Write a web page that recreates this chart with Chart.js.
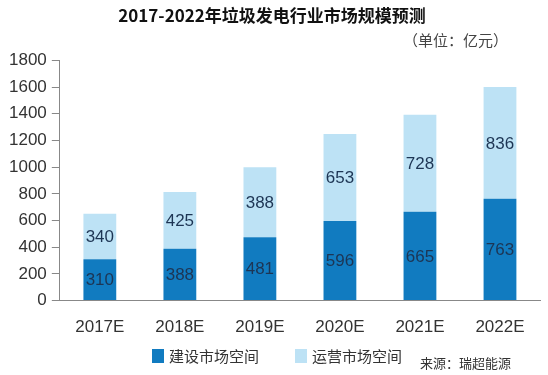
<!DOCTYPE html>
<html>
<head>
<meta charset="utf-8">
<script src="https://cdn.jsdelivr.net/npm/chart.js@4"></script>
<style>
  html, body { margin: 0; padding: 0; background: #fff; }
  #wrap { width: 548px; height: 375px; }
</style>
</head>
<body>
<div id="wrap"><canvas id="marketChart"></canvas></div>
<script>
const years = ['2017E', '2018E', '2019E', '2020E', '2021E', '2022E'];
// bar heights as drawn in the picture
const buildValues = [310, 388, 475, 596, 665, 763];
const operateValues = [340, 425, 525, 653, 728, 838];
// numbers printed on the bars (2019E operate bar is drawn taller than its label)
const buildLabels = [310, 388, 481, 596, 665, 763];
const operateLabels = [340, 425, 388, 653, 728, 836];
const yTicks = [0, 200, 400, 600, 800, 1000, 1200, 1400, 1600, 1800];

const FONT = '"Liberation Sans", "Noto Sans CJK SC", sans-serif';
const CJK = '"Noto Sans CJK SC", sans-serif';

// numbers inside the bars, unit note, legend and source note
const barLabels = {
  id: 'barLabels',
  afterDatasetsDraw(chart) {
    const ctx = chart.ctx;
    const texts = [buildLabels, operateLabels];
    ctx.save();
    ctx.font = '17px ' + FONT;
    ctx.fillStyle = '#1d3554';
    ctx.textAlign = 'center';
    ctx.textBaseline = 'middle';
    chart.data.datasets.forEach((ds, i) => {
      chart.getDatasetMeta(i).data.forEach((bar, j) => {
        ctx.fillText(texts[i][j], bar.x, (bar.y + bar.base) / 2 + 1);
      });
    });

    ctx.font = '15px ' + CJK;
    ctx.fillStyle = '#444';
    ctx.textAlign = 'right';
    ctx.fillText('（单位：亿元）', 508, 40);

    // legend
    const legendX = [152, 295];
    ctx.font = '15px ' + CJK;
    ctx.textAlign = 'left';
    chart.data.datasets.forEach((ds, i) => {
      ctx.fillStyle = ds.backgroundColor;
      ctx.fillRect(legendX[i], 349, 12, 14);
      ctx.fillStyle = '#333';
      ctx.fillText(ds.label, legendX[i] + 17, 356);
    });

    ctx.font = '13px ' + CJK;
    ctx.fillStyle = '#333';
    ctx.fillText('来源：瑞超能源', 420, 363);
    ctx.restore();
  }
};

new Chart(document.getElementById('marketChart'), {
  type: 'bar',
  data: {
    labels: years,
    datasets: [
      { label: '建设市场空间', data: buildValues, backgroundColor: '#117bc0', barPercentage: 0.41, categoryPercentage: 1 },
      { label: '运营市场空间', data: operateValues, backgroundColor: '#bde2f5', barPercentage: 0.41, categoryPercentage: 1 }
    ]
  },
  options: {
    responsive: true,
    maintainAspectRatio: false,
    animation: false,
    layout: { padding: { left: 4, right: 8, top: 4, bottom: 28 } },
    plugins: {
      title: {
        display: true,
        text: '2017-2022年垃圾发电行业市场规模预测',
        font: { family: CJK, size: 17, weight: 'bold' },
        color: '#111',
        padding: { top: 1, bottom: 35 }
      },
      legend: { display: false },
      tooltip: { enabled: false }
    },
    scales: {
      x: {
        stacked: true,
        grid: { display: false },
        border: { display: true, color: '#888' },
        ticks: { font: { family: FONT, size: 17 }, color: '#333', padding: 9 }
      },
      y: {
        stacked: true,
        min: 0,
        max: 1800,
        afterBuildTicks(axis) { axis.ticks = yTicks.map(v => ({ value: v })); },
        grid: { drawOnChartArea: false, tickLength: 8, color: '#888' },
        border: { display: true, color: '#888' },
        ticks: { font: { family: FONT, size: 17 }, color: '#333', padding: 5, autoSkip: false, callback: v => String(v) }
      }
    }
  },
  plugins: [barLabels]
});
</script>
</body>
</html>
